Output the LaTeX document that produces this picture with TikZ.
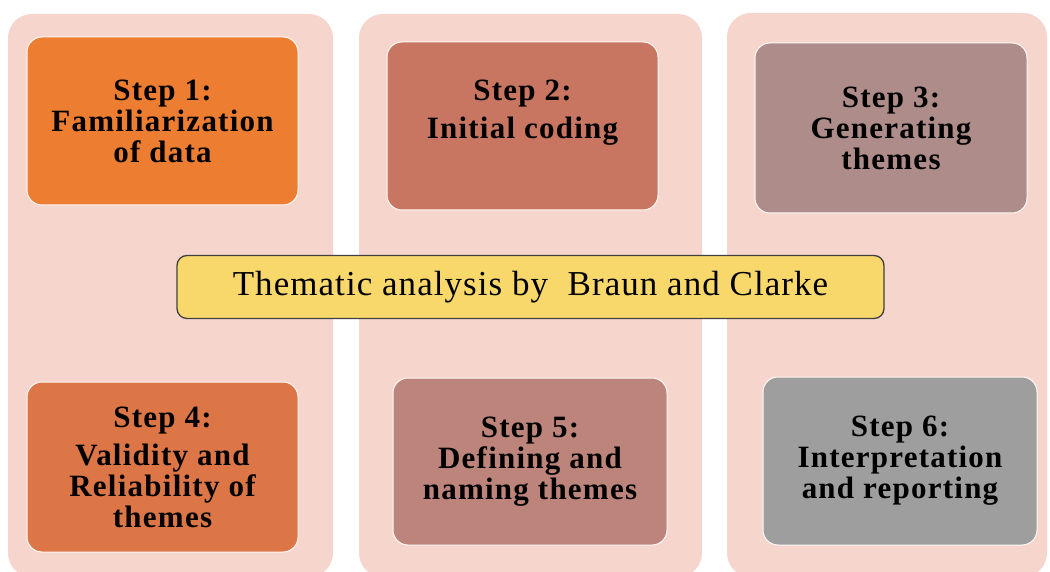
\documentclass[tikz,border=0pt]{standalone}
\usepackage{fontspec}
\setmainfont{Liberation Serif}
\newfontfamily\stepfont[LetterSpace=4]{Liberation Serif}
\newfontfamily\titlefont[LetterSpace=3]{Liberation Serif}
\begin{document}
\begin{tikzpicture}[x=1pt,y=-1pt,
  panel/.style={fill=panelpink, draw=none, rounded corners=24pt},
  stepbox/.style={draw=white!85!panelpink, line width=1pt, rounded corners=15pt,
    align=center, font=\stepfont\fontsize{31}{31}\selectfont\bfseries, text=black, inner sep=0pt},
  titlebox/.style={draw=black!75, line width=1.3pt, fill=titleyellow, rounded corners=10pt,
    font=\titlefont\fontsize{35}{38}\selectfont, inner sep=0pt}]
\definecolor{panelpink}{RGB}{246,213,204}
\definecolor{sone}{RGB}{237,125,49}
\definecolor{stwo}{RGB}{200,118,97}
\definecolor{sthree}{RGB}{174,140,137}
\definecolor{sfour}{RGB}{221,118,70}
\definecolor{sfive}{RGB}{188,132,122}
\definecolor{ssix}{RGB}{158,158,158}
\definecolor{titleyellow}{RGB}{249,216,107}
\useasboundingbox (0,0) rectangle (1050,572);
\fill[white] (0,0) rectangle (1050,572);
% panels
\fill[panel] (8,14) rectangle (333,577);
\fill[panel] (359,14) rectangle (702,577);
\fill[panel] (727,13) rectangle (1047,577);
% steps
\node[stepbox, fill=sone, minimum width=271pt, minimum height=168pt] (s1) at (162.5,121) {Step 1:\\Familiarization\\of data};
\node[stepbox, fill=stwo, minimum width=271pt, minimum height=168pt] (s2) at (522.5,126) {Step 2:\\[7pt]Initial coding\\[3pt]\mbox{}};
\node[stepbox, fill=sthree, minimum width=272pt, minimum height=170pt] (s3) at (891,128) {Step 3:\\Generating\\themes};
\node[stepbox, fill=sfour, minimum width=271pt, minimum height=170pt] (s4) at (162.5,467) {Step 4:\\[7pt]Validity and\\Reliability of\\themes};
\node[stepbox, fill=sfive, minimum width=274pt, minimum height=167pt] (s5) at (530,461.5) {Step 5:\\Defining and\\naming themes};
\node[stepbox, fill=ssix, minimum width=274pt, minimum height=168pt] (s6) at (900,461) {Step 6:\\Interpretation\\and reporting};
% title
\node[titlebox, minimum width=707pt, minimum height=63pt] (title) at (530.5,287) {Thematic analysis by\ \ Braun and Clarke};
\end{tikzpicture}
\end{document}
